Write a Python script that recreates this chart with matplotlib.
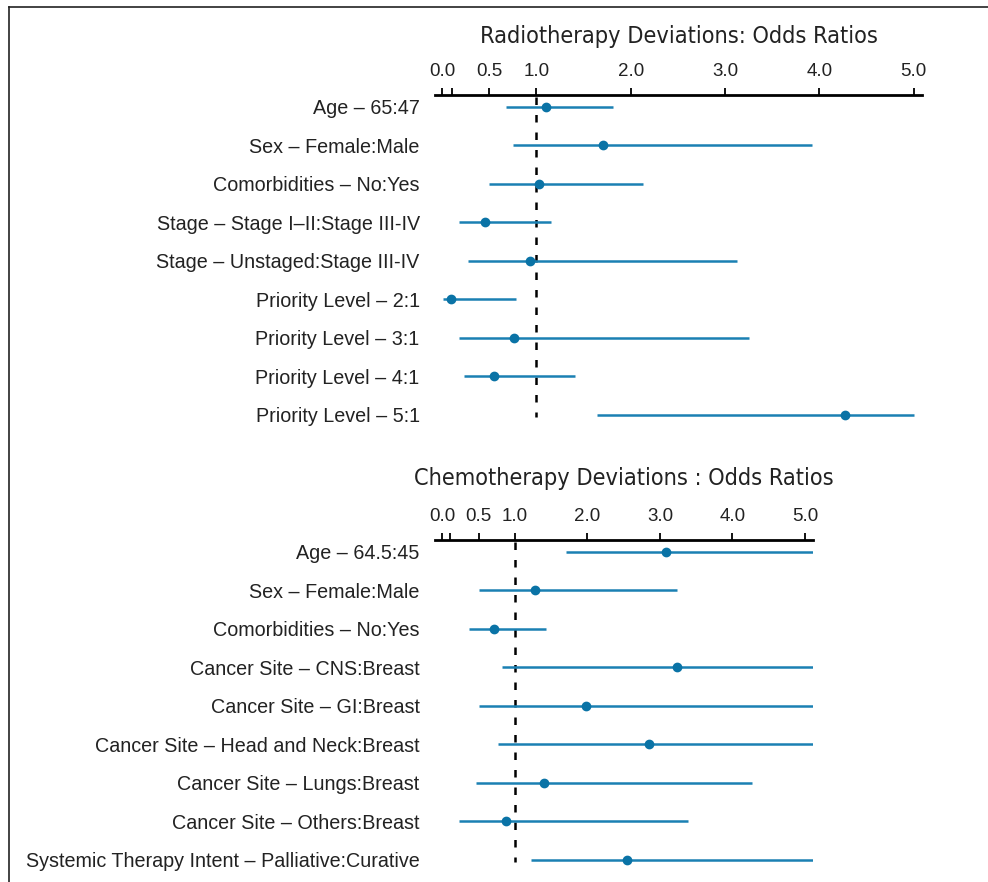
import matplotlib
matplotlib.use("Agg")
import matplotlib.pyplot as plt
from matplotlib.lines import Line2D
from matplotlib import font_manager

# ---------------- data ----------------
rt_labels = ["Age \u2013 65:47", "Sex \u2013 Female:Male", "Comorbidities \u2013 No:Yes",
             "Stage \u2013 Stage I\u2013II:Stage III-IV", "Stage \u2013 Unstaged:Stage III-IV",
             "Priority Level \u2013 2:1", "Priority Level \u2013 3:1",
             "Priority Level \u2013 4:1", "Priority Level \u2013 5:1"]
rt_or = [1.10, 1.71, 1.03, 0.45, 0.93, 0.095, 0.76, 0.55, 4.27]
rt_lo = [0.675, 0.75, 0.50, 0.18, 0.28, 0.01, 0.18, 0.23, 1.64]
rt_hi = [1.81, 3.92, 2.13, 1.15, 3.13, 0.78, 3.25, 1.41, 5.01]

ch_labels = ["Age \u2013 64.5:45", "Sex \u2013 Female:Male", "Comorbidities \u2013 No:Yes",
             "Cancer Site \u2013 CNS:Breast", "Cancer Site \u2013 GI:Breast",
             "Cancer Site \u2013 Head and Neck:Breast", "Cancer Site \u2013 Lungs:Breast",
             "Cancer Site \u2013 Others:Breast",
             "Systemic Therapy Intent \u2013 Palliative:Curative"]
ch_or = [3.08, 1.28, 0.72, 3.23, 1.98, 2.85, 1.40, 0.88, 2.54]
ch_lo = [1.70, 0.51, 0.37, 0.83, 0.50, 0.77, 0.46, 0.23, 1.23]
ch_hi = [7.0, 3.24, 1.43, 7.0, 7.0, 7.0, 4.27, 3.39, 7.0]

tick_vals = [0.0, 0.1, 0.5, 1.0, 2.0, 3.0, 4.0, 5.0]
tick_text = ["0.0", "", "0.5", "1.0", "2.0", "3.0", "4.0", "5.0"]

LINE_C = "#1a80b3"
PT_C = "#0a73a6"

W, H = 988, 882
fig = plt.figure(figsize=(W / 100, H / 100), dpi=100)

label_font = "Liberation Sans"

# condensed title font if available
title_props = dict(family="DejaVu Sans", stretch="condensed")
try:
    fp = font_manager.FontProperties(family="DejaVu Sans", stretch="condensed")
    path = font_manager.findfont(fp)
    if "Condensed" not in path:
        title_props = dict(family="Liberation Sans")
        title_size = 16.5
    else:
        title_size = 16.8
except Exception:
    title_props = dict(family="Liberation Sans")
    title_size = 16.5


def px_axes(x0, x1, y0, y1):
    return fig.add_axes([x0 / W, 1 - y1 / H, (x1 - x0) / W, (y1 - y0) / H])


def panel(ax, labels, ors, los, his, xlim):
    n = len(labels)
    ys = list(range(n))
    for y, o, lo, hi in zip(ys, ors, los, his):
        ax.plot([lo, hi], [y, y], color=LINE_C, lw=1.8, solid_capstyle="butt", zorder=2)
        ax.plot([o], [y], "o", color=PT_C, ms=6, zorder=3)
    ax.vlines(1.0, -0.25, n - 1 + 0.05, colors="black", linestyles=(0, (3, 4)), lw=1.8, zorder=1)
    ax.set_xlim(*xlim)
    ax.set_ylim(n - 1 + 0.39, -0.31)
    ax.set_yticks(ys)
    ax.set_yticklabels(labels, fontsize=14.2, family=label_font, color="#222222")
    ax.tick_params(axis="y", length=0, pad=11)
    ax.xaxis.set_ticks_position("top")
    ax.set_xticks(tick_vals)
    ax.set_xticklabels(tick_text, fontsize=13.5, family=label_font, color="#222222")
    ax.tick_params(axis="x", direction="out", length=5, width=1.3, pad=5.5, color="black")
    for s in ["left", "right", "bottom"]:
        ax.spines[s].set_visible(False)
    ax.spines["top"].set_linewidth(2.0)
    ax.patch.set_alpha(0)


ax1 = px_axes(435, 922, 95, 430)
panel(ax1, rt_labels, rt_or, rt_lo, rt_hi, (-0.075, 5.09))
ax2 = px_axes(435, 813, 540, 875)
panel(ax2, ch_labels, ch_or, ch_lo, ch_hi, (-0.10, 5.11))

fig.text(678.5 / W, 1 - 37 / H, "Radiotherapy Deviations: Odds Ratios", ha="center", va="center",
         fontsize=title_size, color="#222222", **title_props)
fig.text(624 / W, 1 - 478 / H, "Chemotherapy Deviations : Odds Ratios", ha="center", va="center",
         fontsize=title_size, color="#222222", **title_props)

# frame lines (top and left)
fig.add_artist(Line2D([9 / W, 1.0], [1 - 7 / H, 1 - 7 / H], transform=fig.transFigure, color="#222222", lw=1.2))
fig.add_artist(Line2D([9 / W, 9 / W], [0.0, 1 - 7 / H], transform=fig.transFigure, color="#222222", lw=1.2))

fig.savefig("out.png", dpi=100)
